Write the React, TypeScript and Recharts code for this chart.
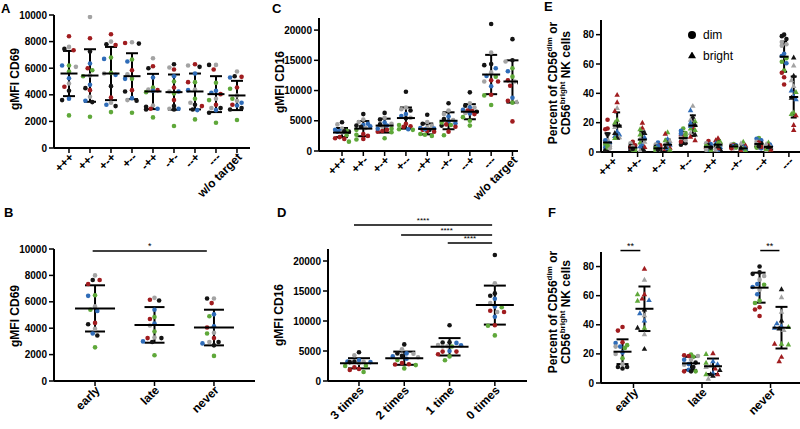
import React from 'react';
import { ScatterChart, Scatter, XAxis, YAxis, ErrorBar, ReferenceLine, Legend } from 'recharts';

const FONT = '"Liberation Sans", Arial, Helvetica, sans-serif';

// donor key -> colour
const DONOR_COLORS: Record<string, string> = {
  k: '#141414',
  g: '#a3a3a3',
  r: '#a01c1f',
  b: '#2f6cb8',
  n: '#5fa83a',
};

// ---------- CD69 by target combination ----------
const COMBOS = ['+++', '++-', '+-+', '+--', '-++', '-+-', '--+', '---', 'w/o target'];
const CD69_COMBO_VALUES = [
  [8400, 7600, 7450, 7350, 6200, 6200, 6100, 5750, 5250, 4850, 4600, 4300, 3700, 3600, 2450],
  [9850, 8250, 7250, 6350, 6000, 5850, 5400, 5450, 4750, 4500, 4350, 3850, 3550, 3450, 2350],
  [8550, 8000, 7750, 7800, 6800, 6700, 5650, 5600, 5500, 4650, 3800, 3400, 3250, 3150, 2700],
  [7950, 7850, 7900, 6650, 6500, 5850, 5550, 5200, 5200, 4350, 4250, 3750, 3600, 3550, 2650],
  [6750, 6150, 6000, 5300, 4550, 4400, 4350, 4200, 3200, 2950, 2950, 2900, 2300, 3100, 4300],
  [6300, 6050, 5900, 5400, 5000, 4550, 4250, 4250, 4100, 3600, 3150, 2950, 2950, 1650, 2900],
  [6300, 6200, 6100, 5600, 4950, 4950, 4350, 3700, 3400, 3250, 3150, 2850, 2900, 2150, 4400],
  [6250, 6250, 5900, 4900, 4150, 4050, 3600, 3700, 3250, 3000, 3000, 2850, 2650, 1900, 4300],
  [5750, 5350, 5400, 5300, 4550, 4450, 3950, 3400, 3700, 3550, 3200, 3000, 3250, 2900, 2100],
];
const CD69_COMBO_DONORS = [
  'rgkrnbgnbgrkbkn', 'grkbrnngbkrgbkn', 'rgrknbngbkrgbkn', 'gkrnbrgnbrkbgkn', 'grkbngrngbrknkb',
  'kgrbnrgbnrkgbnk', 'rgkbnrbngkrbkng', 'gkrnbrngrgkbknb', 'grkbrngbngbkrkn',
];
const CD69_COMBO_MEAN = [5600, 5450, 5600, 5400, 4250, 4200, 4250, 4050, 3950];
const CD69_COMBO_SD = [1700, 1975, 2000, 1725, 1325, 1325, 1350, 1350, 1100];

// ---------- CD69 by timing ----------
const TIMING = ['early', 'late', 'never'];
const CD69_TIMING_VALUES = [
  [8000, 7650, 7650, 7350, 6450, 6500, 5650, 5300, 5400, 4400, 4300, 3950, 3600, 3450, 2550],
  [6300, 6100, 6150, 5400, 4850, 4700, 4350, 4200, 3750, 3300, 3250, 3250, 3000, 2950, 1950],
  [6250, 6250, 5900, 5050, 4900, 4150, 4050, 3650, 3600, 3250, 2950, 2950, 2850, 2700, 1900],
];
const CD69_TIMING_DONORS = ['gkrrbngbnrkgbkn', 'gkrbnrbgngrkbkn', 'gkrbnbrgnrgkbkn'];
const CD69_TIMING_MEAN = [5500, 4250, 4050];
const CD69_TIMING_SD = [1750, 1350, 1350];

// ---------- CD16 by target combination ----------
const CD16_COMBO_VALUES = [
  [4750, 4400, 3700, 3500, 3300, 3050, 3200, 3350, 2600, 2300, 2000, 2100, 1550, 3250, 3200],
  [6100, 5200, 4800, 4500, 4300, 4000, 3800, 2800, 2700, 2000, 1900, 2500, 4100, 3500, 4200],
  [6300, 5500, 5200, 4500, 4700, 4200, 3700, 3300, 3200, 3100, 2100, 4000, 3700, 4400, 3500],
  [9800, 7200, 6900, 6700, 6100, 5800, 5500, 5400, 4500, 4100, 4000, 4300, 3600, 3500, 3600],
  [6000, 4800, 4500, 4200, 3800, 3700, 3500, 3900, 3300, 3200, 3500, 2800, 2500, 2700, 3600],
  [7900, 6700, 6100, 5700, 5300, 5100, 4900, 4600, 4200, 4400, 4000, 3200, 4300, 2600, 4700],
  [9700, 7900, 7500, 7200, 7200, 6800, 6700, 6500, 6600, 6300, 6200, 6100, 5600, 5000, 4200],
  [21000, 16300, 14400, 14200, 13700, 13000, 12400, 12300, 11700, 11500, 11500, 10700, 9300, 9200, 7600],
  [18500, 15000, 14800, 13700, 13200, 12300, 11700, 11500, 11300, 10800, 8800, 8300, 8100, 8000, 4900],
];
const CD16_COMBO_DONORS = [
  'kggbbgknnrrrnkb', 'kggbbkgrnrnrbnk', 'kgkgbbnrrnngbkr', 'kggkbbgkrrrnnnb', 'kgkgbbkgrrrnnnb',
  'kggbkgbbkrrrnnn', 'kgkgbbrkrgbrnnn', 'kgkkbgbnrgrbrnn', 'kkgnbnrgkrbrgnr',
];
const CD16_COMBO_MEAN = [3050, 3700, 4200, 5450, 3650, 5000, 6500, 12650, 11500];
const CD16_COMBO_SD = [750, 1250, 1150, 1750, 900, 1400, 1250, 3250, 3500];

// ---------- CD16 by number of targets ----------
const TIMES = ['3 times', '2 times', '1 time', '0 times'];
const CD16_TIMES_VALUES = [
  [4800, 4300, 3000, 3150, 3500, 3250, 3250, 3250, 3150, 2550, 2500, 2000, 1850, 2300, 1500],
  [6100, 5300, 4600, 4600, 4550, 4200, 3950, 4100, 3700, 3500, 2800, 2750, 2650, 2100, 3000],
  [9300, 6400, 6000, 5800, 5950, 6350, 5750, 5750, 5000, 4900, 4900, 4450, 4100, 3450, 6450],
  [21000, 16300, 14600, 14200, 13700, 13000, 12400, 12300, 11700, 11500, 11500, 10700, 9300, 9200, 7600],
];
const CD16_TIMES_DONORS = ['kggbbkgbknnrrrn', 'kgbkgkgbbnrrnnr', 'kkggbbngbrrrnnk', 'kgkkbgbnrgrbrnn'];
const CD16_TIMES_MEAN = [2950, 3800, 5700, 12650];
const CD16_TIMES_SD = [850, 1100, 1450, 3250];

// ---------- CD56 dim / bright by target combination ----------
const NK_COMBOS = ['+++', '++-', '+-+', '+--', '-++', '-+-', '--+', '---'];
const DIM_COMBO_VALUES = [
  [22, 16, 15.5, 12, 8, 8, 6, 5, 4, 3, 2, 1, 3, 2.5, 4.5],
  [7, 6, 4, 3, 2, 2, 2, 1, 3, 4.5, 1.5, 2.5, 3.5, 1, 2],
  [6.5, 5, 4.5, 3.5, 2.5, 2, 1.5, 1, 3, 2, 0.5, 4, 1, 2.5, 1.5],
  [16, 14.5, 13, 12, 11, 10, 9, 6, 5, 10.5, 8, 12.5, 9.5, 7, 11.5],
  [7.5, 6, 5.5, 4.5, 3.5, 3, 2.5, 2, 1.5, 3, 2.5, 4, 1.5, 1, 3],
  [5.5, 5, 4.5, 4, 3.5, 3, 3, 4.5, 3.5, 3, 4, 2.5, 4, 2.5, 3.5],
  [9.5, 9, 8, 7, 6, 5, 4, 3, 2.5, 6.5, 4.5, 3.5, 5.5, 3, 4],
  [80, 79, 77, 75, 73.5, 72.5, 67, 65.5, 64, 61.5, 60.5, 55.5, 54, 51, 46],
];
const DIM_COMBO_DONORS = [
  'rrrkgbbngbkkngn', 'rgkbbgnkrrnbgnk', 'bgrkbgnkrrnbgnk', 'nbngrbkkkrgbgrn',
  'rgbkbngkbrrngnk', 'ngbkbgkrrnbgkrn', 'nbbgkrkgbrnrgnk', 'kkkgggbbnnbnrrr',
];
const DIM_COMBO_MEAN = [6.5, 3, 2.5, 9.5, 3.5, 3.8, 5.5, 65];
const DIM_COMBO_SD = [6.3, 2, 2.3, 4, 2, 1.2, 3, 10.3];

const BRIGHT_COMBO_VALUES = [
  [39, 34, 30, 28, 22, 20, 18, 17, 14, 12, 11, 10, 10, 9.5, 13],
  [20, 16.5, 15.5, 13, 10, 9, 6.5, 5, 3.5, 2, 1, 12, 4, 7, 0.5],
  [13.5, 12.5, 9, 7.5, 6, 5, 4, 2, 1, 3, 8, 2.5, 5.5, 1.5, 3.5],
  [31.5, 28.5, 24, 22, 21, 20, 18.5, 17, 16, 13, 12, 10.5, 8, 15, 18],
  [9.5, 8, 7, 6, 5, 4.5, 3.5, 2, 1, 6.5, 3, 2.5, 5, 1.5, 4],
  [7, 6, 4.5, 3.5, 2, 1.5, 0.5, 0.5, 3, 2.5, 1, 4, 2, 1, 3],
  [6.5, 5, 4, 3.5, 3, 2, 1, 0.5, 4.5, 2.5, 5.5, 3, 1.5, 2, 3.5],
  [64.5, 59, 52, 49, 42, 41, 38, 37, 36, 27, 26, 25, 18.5, 15, 45],
];
const BRIGHT_COMBO_DONORS = [
  'rrgrnnkgbbbgknk', 'rrnkbgnbrkgnbgk', 'nrbgkbgrkrnbgnk', 'gbkgnbkrngkrrnb',
  'rrnbgkbkbngrngk', 'ngrbkrgkbnrgbnk', 'nbkgrbngrkgbrnk', 'kgkgbnbkbnnrrrg',
];
const BRIGHT_COMBO_MEAN = [18, 8.5, 5, 18, 5, 2.5, 3.5, 37.5];
const BRIGHT_COMBO_SD = [9, 5.5, 3.5, 7, 3, 2, 1.8, 14];

// ---------- CD56 dim / bright by timing ----------
const DIM_TIMING_VALUES = [
  [38.5, 36, 28, 27.5, 26, 25, 25, 24, 21, 20, 17, 13, 11, 11, 10],
  [19, 19.5, 18.5, 18.5, 18, 16, 16, 14, 13, 12.5, 11, 9, 8, 8, 8],
  [80, 76, 73.5, 71, 68, 66, 67.5, 64, 61, 75, 56.5, 55, 52, 50.5, 46],
];
const DIM_TIMING_DONORS = ['rrrbnbgnbgngkkk', 'rngrnbgkbgkbnrk', 'kkggbbngbknnrrr'];
const DIM_TIMING_MEAN = [21.5, 13.5, 65.5];
const DIM_TIMING_SD = [8.5, 4.5, 10.3];

const BRIGHT_TIMING_VALUES = [
  [78.5, 71, 61, 61, 58, 57, 56.5, 50.5, 46.5, 43, 38, 38, 33.5, 23.5, 48],
  [20.5, 20, 15, 14, 12, 11, 10, 7, 6, 6, 6, 5, 3, 13, 9],
  [64.5, 59, 49, 43, 39, 38.5, 38, 37.5, 36.5, 27, 26.5, 27, 18, 15, 41],
];
const BRIGHT_TIMING_DONORS = ['rgrnrbnkgbnkgkb', 'rnbnggrbnrkkgbk', 'kggkbnbkgnnrrrb'];
const BRIGHT_TIMING_MEAN = [51, 11.5, 38];
const BRIGHT_TIMING_SD = [15.3, 5.3, 14.3];

const PANEL_LETTERS = [
  { text: 'A', x: 1, y: 13 },
  { text: 'B', x: 4, y: 217 },
  { text: 'C', x: 272, y: 13 },
  { text: 'D', x: 277, y: 217 },
  { text: 'E', x: 544, y: 11 },
  { text: 'F', x: 548, y: 217 },
];

// ---------- types ----------
type Group = { values: number[][]; donors: string[]; mean: number[]; sd: number[] };
type Series = { name: string; group: Group; shift: number; marker: 'circle' | 'triangle' };
type Sig = { x1: number; x2: number; y: number; text: string };

// Spreads the dots of one column sideways so they do not sit on top of each other.
function swarm(values: number[], pxPerY: number, dotPx: number, maxPx: number): number[] {
  const order = values.map((_, i) => i).sort((a, b) => values[b] - values[a]);
  const slots: number[] = [0];
  const step = dotPx / 2;
  for (let k = 1; k * step <= maxPx + 1e-6; k++) slots.push(-k * step, k * step);
  const placed: { x: number; y: number }[] = [];
  const out = new Array(values.length).fill(0);
  for (const i of order) {
    const y = values[i] * pxPerY;
    let best = 0;
    let bestScore = -Infinity;
    for (const s of slots) {
      let minD = Infinity;
      for (const p of placed) {
        const d = Math.hypot(p.x - s, p.y - y);
        if (d < minD) minD = d;
      }
      if (minD >= dotPx * 1.05) {
        best = s;
        break;
      }
      if (minD > bestScore) {
        bestScore = minD;
        best = s;
      }
    }
    placed.push({ x: best, y });
    out[i] = best;
  }
  return out;
}

const DonorDot = (props: any) => {
  const { cx, cy, payload } = props;
  if (cx == null || cy == null || !payload) return null;
  const fill = DONOR_COLORS[payload.donor] || '#141414';
  if (payload.marker === 'triangle') {
    const s = 2.9;
    return (
      <path
        d={`M${cx},${cy - s} L${cx + s * 0.95},${cy + s * 0.7} L${cx - s * 0.95},${cy + s * 0.7} Z`}
        fill={fill}
      />
    );
  }
  return <circle cx={cx} cy={cy} r={2.3} fill={fill} />;
};

const makeMeanShape = (half: number) => (props: any) => {
  const { cx, cy } = props;
  if (cx == null || cy == null) return null;
  return <line x1={cx - half} x2={cx + half} y1={cy} y2={cy} stroke="#000" strokeWidth={2} />;
};

const CategoryTick = (props: any) => {
  const { x, y, payload, labels, fontSize } = props;
  const label = labels[Math.round(payload.value)] ?? '';
  return (
    <g transform={`translate(${x},${y})`}>
      <text
        x={0}
        y={0}
        dx="0.15em"
        dy="0.5em"
        textAnchor="end"
        transform="rotate(-45)"
        fontSize={fontSize}
        fontWeight={700}
        fill="#000"
        fontFamily={FONT}
      >
        {label}
      </text>
    </g>
  );
};

type PanelProps = {
  left: number;
  top: number;
  width: number;
  height: number;
  plot: [number, number, number, number];
  xDomain: [number, number];
  yDomain: [number, number];
  yTicks: number[];
  categories: string[];
  series: Series[];
  spreadPx: number;
  meanHalf: number;
  capHalf: number;
  tickFont: number;
  sig?: Sig[];
  sigFont?: number;
  legend?: { left: number; top: number };
};

const LEGEND_ORDER = ['dim', 'bright'];

function Panel(p: PanelProps) {
  const [L, T, R, B] = p.plot;
  const yAxisW = 50;
  const xAxisH = 40;
  const margin = { top: T, left: L - yAxisW, right: p.width - R, bottom: p.height - B - xAxisH };
  const pxPerX = (R - L) / (p.xDomain[1] - p.xDomain[0]);
  const pxPerY = (B - T) / (p.yDomain[1] - p.yDomain[0]);
  const dotPx = 4.6;

  const pointSets = p.series.map((s) =>
    s.group.values.flatMap((vals, gi) => {
      const offs = swarm(vals, pxPerY, dotPx, p.spreadPx);
      return vals.map((v, j) => ({
        x: gi + s.shift + offs[j] / pxPerX,
        y: v,
        donor: s.group.donors[gi][j] || 'k',
        marker: s.marker,
      }));
    })
  );
  const summarySets = p.series.map((s) =>
    s.group.mean.map((m, gi) => ({ x: gi + s.shift, y: m, err: s.group.sd[gi] }))
  );
  const meanShape = makeMeanShape(p.meanHalf);

  return (
    <div style={{ position: 'absolute', left: p.left, top: p.top }}>
      <ScatterChart width={p.width} height={p.height} margin={margin}>
        <XAxis
          type="number"
          dataKey="x"
          domain={p.xDomain}
          allowDataOverflow
          ticks={p.categories.map((_, i) => i)}
          interval={0}
          height={xAxisH}
          tickSize={5}
          axisLine={{ stroke: '#000', strokeWidth: 2 }}
          tickLine={{ stroke: '#000', strokeWidth: 1.5 }}
          tick={<CategoryTick labels={p.categories} fontSize={p.tickFont} />}
        />
        <YAxis
          type="number"
          dataKey="y"
          domain={p.yDomain}
          allowDataOverflow
          ticks={p.yTicks}
          interval={0}
          width={yAxisW}
          tickSize={5}
          axisLine={{ stroke: '#000', strokeWidth: 2 }}
          tickLine={{ stroke: '#000', strokeWidth: 1.5 }}
          tick={{ fontSize: 10, fontWeight: 700, fill: '#000', fontFamily: FONT }}
        />
        {p.series.map((s, i) => (
          <Scatter
            key={`pts-${s.name}`}
            name={s.name}
            data={pointSets[i]}
            fill="#000"
            legendType={s.marker}
            shape={DonorDot}
            isAnimationActive={false}
          />
        ))}
        {p.series.map((s, i) => (
          <Scatter
            key={`sum-${s.name}`}
            name={`${s.name} mean`}
            data={summarySets[i]}
            fill="#000"
            legendType="none"
            shape={meanShape}
            isAnimationActive={false}
          >
            <ErrorBar dataKey="err" direction="y" width={p.capHalf} stroke="#000" strokeWidth={2} />
          </Scatter>
        ))}
        {(p.sig || []).map((s, i) => (
          <ReferenceLine
            key={`sig-${i}`}
            segment={[
              { x: s.x1, y: s.y },
              { x: s.x2, y: s.y },
            ]}
            stroke="#000"
            strokeWidth={1.5}
            ifOverflow="visible"
            label={{ value: s.text, position: 'top', offset: 2, fontSize: p.sigFont || 9, fill: '#000', fontFamily: FONT }}
          />
        ))}
        {p.legend && (
          <Legend
            layout="vertical"
            align="center"
            verticalAlign="middle"
            iconSize={8}
            itemSorter={(item: any) => LEGEND_ORDER.indexOf(String(item.value))}
            formatter={(value: string) => (
              <span style={{ color: '#000', marginLeft: 3, fontSize: 12, fontFamily: FONT }}>{value}</span>
            )}
            wrapperStyle={{ left: p.legend.left, top: p.legend.top, width: 'auto', lineHeight: '19px' }}
          />
        )}
      </ScatterChart>
    </div>
  );
}

const AxisTitle = ({ cx, cy, children }: { cx: number; cy: number; children: React.ReactNode }) => (
  <div
    style={{
      position: 'absolute',
      left: cx,
      top: cy,
      transform: 'translate(-50%, -50%) rotate(-90deg)',
      fontFamily: FONT,
      fontWeight: 700,
      fontSize: 12,
      lineHeight: '13px',
      whiteSpace: 'nowrap',
      textAlign: 'center',
    }}
  >
    {children}
  </div>
);

const supStyle: React.CSSProperties = { fontSize: 8, verticalAlign: 'super', lineHeight: 0 };

const NkTitle = () => (
  <>
    Percent of CD56<span style={supStyle}>dim</span> or
    <br />
    CD56<span style={supStyle}>bright</span> NK cells
  </>
);

export default function App() {
  const cd69Combo: Group = { values: CD69_COMBO_VALUES, donors: CD69_COMBO_DONORS, mean: CD69_COMBO_MEAN, sd: CD69_COMBO_SD };
  const cd69Timing: Group = { values: CD69_TIMING_VALUES, donors: CD69_TIMING_DONORS, mean: CD69_TIMING_MEAN, sd: CD69_TIMING_SD };
  const cd16Combo: Group = { values: CD16_COMBO_VALUES, donors: CD16_COMBO_DONORS, mean: CD16_COMBO_MEAN, sd: CD16_COMBO_SD };
  const cd16Times: Group = { values: CD16_TIMES_VALUES, donors: CD16_TIMES_DONORS, mean: CD16_TIMES_MEAN, sd: CD16_TIMES_SD };
  const dimCombo: Group = { values: DIM_COMBO_VALUES, donors: DIM_COMBO_DONORS, mean: DIM_COMBO_MEAN, sd: DIM_COMBO_SD };
  const brightCombo: Group = { values: BRIGHT_COMBO_VALUES, donors: BRIGHT_COMBO_DONORS, mean: BRIGHT_COMBO_MEAN, sd: BRIGHT_COMBO_SD };
  const dimTiming: Group = { values: DIM_TIMING_VALUES, donors: DIM_TIMING_DONORS, mean: DIM_TIMING_MEAN, sd: DIM_TIMING_SD };
  const brightTiming: Group = { values: BRIGHT_TIMING_VALUES, donors: BRIGHT_TIMING_DONORS, mean: BRIGHT_TIMING_MEAN, sd: BRIGHT_TIMING_SD };

  const cd69Ticks = [0, 2000, 4000, 6000, 8000, 10000];
  const cd16Ticks = [0, 5000, 10000, 15000, 20000];
  const pctTicks = [0, 20, 40, 60, 80];

  return (
    <div style={{ position: 'absolute', left: 0, top: 0, width: 800, height: 429, background: '#fff', overflow: 'hidden', fontFamily: FONT }}>
      {/* A */}
      <Panel
        left={0} top={0} width={265} height={205}
        plot={[54, 15, 250, 148]}
        xDomain={[-0.714, 8.62]} yDomain={[0, 10000]} yTicks={cd69Ticks}
        categories={COMBOS}
        series={[{ name: 'CD69', group: cd69Combo, shift: 0, marker: 'circle' }]}
        spreadPx={8} meanHalf={8.5} capHalf={6} tickFont={12}
      />
      {/* B */}
      <Panel
        left={0} top={200} width={265} height={229}
        plot={[54, 49, 255, 181]}
        xDomain={[-0.69, 2.69]} yDomain={[0, 10000]} yTicks={cd69Ticks}
        categories={TIMING}
        series={[{ name: 'CD69', group: cd69Timing, shift: 0, marker: 'circle' }]}
        spreadPx={14} meanHalf={20} capHalf={10} tickFont={12}
        sig={[{ x1: -0.04, x2: 1.88, y: 9850, text: '*' }]}
      />
      {/* C */}
      <Panel
        left={265} top={0} width={265} height={205}
        plot={[54, 18, 253, 151]}
        xDomain={[-1.08, 8.26]} yDomain={[0, 22000]} yTicks={cd16Ticks}
        categories={COMBOS}
        series={[{ name: 'CD16', group: cd16Combo, shift: 0, marker: 'circle' }]}
        spreadPx={9} meanHalf={9} capHalf={6} tickFont={12}
      />
      {/* D */}
      <Panel
        left={265} top={200} width={265} height={229}
        plot={[63, 49, 262, 181]}
        xDomain={[-0.684, 3.71]} yDomain={[0, 22000]} yTicks={cd16Ticks}
        categories={TIMES}
        series={[{ name: 'CD16', group: cd16Times, shift: 0, marker: 'circle' }]}
        spreadPx={16} meanHalf={19} capHalf={11} tickFont={12}
        sig={[
          { x1: -0.11, x2: 2.94, y: 26000, text: '****' },
          { x1: 0.93, x2: 2.94, y: 24330, text: '****' },
          { x1: 1.96, x2: 2.94, y: 23000, text: '****' },
        ]}
        sigFont={8}
      />
      {/* E */}
      <Panel
        left={530} top={0} width={270} height={205}
        plot={[71, 20, 270, 152]}
        xDomain={[-0.45, 7.44]} yDomain={[0, 90]} yTicks={pctTicks}
        categories={NK_COMBOS}
        series={[
          { name: 'dim', group: dimCombo, shift: -0.19, marker: 'circle' },
          { name: 'bright', group: brightCombo, shift: 0.19, marker: 'triangle' },
        ]}
        spreadPx={4} meanHalf={4.5} capHalf={3} tickFont={12}
        legend={{ left: 158, top: 24 }}
      />
      {/* F */}
      <Panel
        left={530} top={200} width={270} height={229}
        plot={[71, 52, 270, 183]}
        xDomain={[-0.474, 2.43]} yDomain={[0, 90]} yTicks={pctTicks}
        categories={TIMING}
        series={[
          { name: 'dim', group: dimTiming, shift: -0.16, marker: 'circle' },
          { name: 'bright', group: brightTiming, shift: 0.16, marker: 'triangle' },
        ]}
        spreadPx={9} meanHalf={9} capHalf={6} tickFont={12}
        sig={[
          { x1: -0.19, x2: 0.1, y: 91, text: '**' },
          { x1: 1.85, x2: 2.13, y: 91, text: '**' },
        ]}
        sigFont={9}
      />

      <AxisTitle cx={15} cy={79}>gMFI CD69</AxisTitle>
      <AxisTitle cx={15} cy={316}>gMFI CD69</AxisTitle>
      <AxisTitle cx={280} cy={82}>gMFI CD16</AxisTitle>
      <AxisTitle cx={279} cy={315}>gMFI CD16</AxisTitle>
      <AxisTitle cx={560} cy={83}><NkTitle /></AxisTitle>
      <AxisTitle cx={560} cy={312}><NkTitle /></AxisTitle>

      {/* panel letters */}
      <svg width={800} height={429} style={{ position: 'absolute', left: 0, top: 0, pointerEvents: 'none' }}>
        {PANEL_LETTERS.map((l) => (
          <text key={l.text} x={l.x} y={l.y} fontFamily={FONT} fontWeight={700} fontSize={13} fill="#000">
            {l.text}
          </text>
        ))}
      </svg>
    </div>
  );
}
